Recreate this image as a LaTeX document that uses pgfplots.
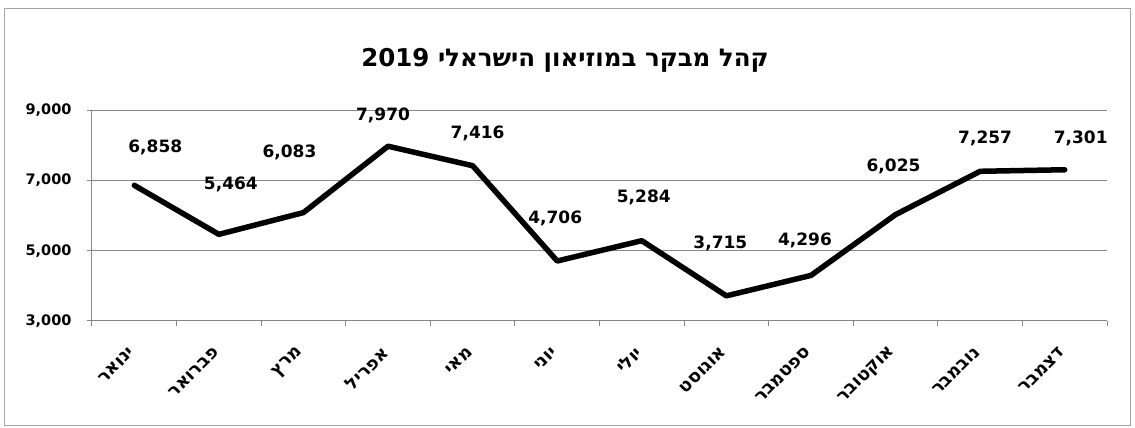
\documentclass[border=0pt]{standalone}
\usepackage{fontspec}
\usepackage{pgfplots}
\usepackage{pgfplotstable}
\pgfplotsset{compat=1.18}
\TeXXeTstate=1
\newfontfamily\djb{DejaVu Sans Bold}
\newfontfamily\heb[Script=Hebrew]{DejaVu Sans Bold}
\newcommand\hl[1]{\hbox{\heb\fontsize{18}{21}\selectfont #1}}
\definecolor{gridc}{RGB}{134,134,134}
\definecolor{framec}{RGB}{165,165,165}
\pgfplotstableread{
x y dx dy
0 6858 21 38
1 5464 12 50
2 6083 -14 60
3 7970 -5 31
4 7416 5 32
5 4706 -2 43
6 5284 2 43
7 3715 -6 52
8 4296 -6 35
9 6025 -2 48
10 7257 5 33
11 7301 16 31
}\visitors
\begin{document}
\begin{tikzpicture}
\begin{axis}[
  at={(0,0)}, anchor=south west,
  scale only axis, width=1015pt, height=211pt,
  xmin=-0.5, xmax=11.5, ymin=3000, ymax=9000,
  axis x line*=bottom, axis y line*=left,
  axis line style={draw=gridc, line width=1pt},
  xtick={-0.5,0.5,...,11.5}, xticklabels={},
  extra x ticks={0,1,...,11},
  extra x tick labels={\hl{ינואר},\hl{פברואר},\hl{מרץ},\hl{אפריל},\hl{מאי},\hl{יוני},\hl{יולי},\hl{אוגוסט},\hl{ספטמבר},\hl{אוקטובר},\hl{נובמבר},\hl{דצמבר}},
  extra x tick style={major tick length=0pt, tick style={draw=none}, grid=none,
     tick label style={xshift=-2pt, yshift=-28pt, rotate=45, anchor=east, inner sep=1pt}},
  ytick={3000,5000,7000,9000},
  ymajorgrids, grid style={draw=gridc, line width=1pt},
  tick align=outside, major tick length=5pt,
  tick style={draw=gridc, line width=1pt},
  /pgf/number format/assume math mode=true,
  /pgf/number format/1000 sep={,},
  yticklabel style={font=\djb\fontsize{14.5}{17}\selectfont, xshift=-12pt},
  clip=false,
]
\addplot[black, line width=5.5pt, line join=round, line cap=round,
  nodes near coords={\pgfmathprintnumber[1000 sep={,}]{\pgfplotspointmeta}},
  visualization depends on={\thisrow{dx}\as\dx},
  visualization depends on={\thisrow{dy}\as\dy},
  nodes near coords style={font=\djb\fontsize{17}{20}\selectfont, anchor=center, xshift=\dx pt, yshift=\dy pt, text=black},
  point meta=y,
] table[x=x, y=y] {\visitors};
\end{axis}
\node[font=\heb\fontsize{24.5}{29}\selectfont, anchor=center] at (473pt,261pt) {\beginR קהל מבקר במוזיאון הישראלי 2019\endR};
\draw[framec, line width=1pt] (-87pt,-104pt) rectangle (1038pt,312pt);
\pgfresetboundingbox
\path[use as bounding box] (-92pt,-107pt) rectangle (1043pt,321pt);
\end{tikzpicture}
\end{document}
